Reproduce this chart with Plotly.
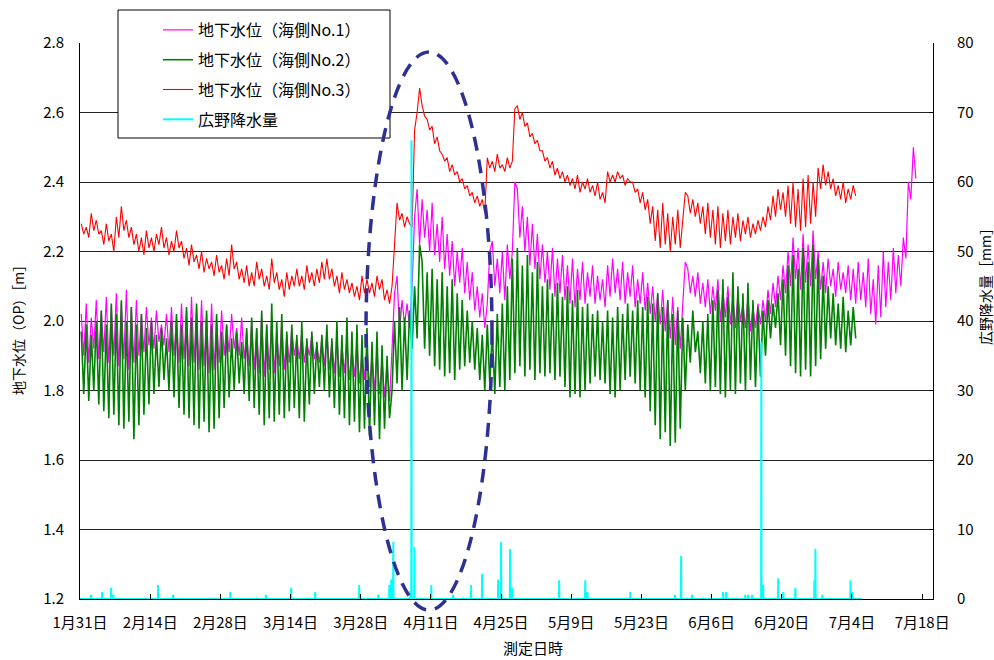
import pandas as pd
import plotly.graph_objects as go

# ---------------- data (12-hourly readings, starting 2011-01-31 06:00) ----------------
SERIES_START = "2011-01-31 06:00"

no1_level = [
    2.02,1.90, 2.05,1.88, 2.01,1.92, 2.06,1.89, 2.03,1.91, 2.07,1.88, 2.04,1.90,
    2.08,1.87, 2.05,1.89, 2.09,1.86, 2.04,1.88, 2.06,1.90, 2.02,1.91, 2.04,1.93,
    2.01,1.92, 2.03,1.94, 1.99,1.93, 2.02,1.91, 2.04,1.90, 2.01,1.88, 2.05,1.89,
    2.03,1.87, 2.07,1.88, 2.04,1.86, 2.06,1.87, 2.02,1.85, 2.05,1.86, 2.01,1.88,
    2.03,1.90, 1.99,1.91, 2.02,1.92, 1.98,1.90, 2.01,1.89, 1.97,1.87, 2.00,1.86,
    1.98,1.85, 2.02,1.84, 1.99,1.86, 2.01,1.85, 1.97,1.87, 2.00,1.86, 1.96,1.88,
    1.98,1.90, 1.95,1.89, 1.97,1.88, 1.94,1.90, 1.96,1.89, 1.93,1.88, 1.95,1.87,
    1.97,1.86, 1.94,1.85, 1.96,1.84, 1.93,1.85, 1.95,1.83, 1.92,1.84, 1.94,1.82,
    1.91,1.83, 1.93,1.81, 1.90,1.80, 1.92,1.79, 1.89,1.78, 1.88,1.77, 1.92,2.08,
    2.13,1.97, 2.06,1.99, 2.05,1.98, 2.10,2.30, 2.38,2.22, 2.35,2.24, 2.32,2.20,
    2.34,2.19, 2.28,2.17, 2.30,2.15, 2.25,2.13, 2.23,2.10, 2.20,2.11, 2.21,2.08,
    2.17,2.06, 2.14,2.03, 2.10,2.01, 2.08,1.98, 2.05,2.20, 2.23,2.10, 2.18,2.08,
    2.20,2.06, 2.22,2.12, 2.20,2.40, 2.38,2.24, 2.33,2.20, 2.30,2.16, 2.28,2.15,
    2.25,2.12, 2.22,2.11, 2.20,2.09, 2.21,2.07, 2.18,2.08, 2.19,2.06, 2.16,2.05,
    2.18,2.04, 2.15,2.06, 2.17,2.05, 2.14,2.07, 2.16,2.05, 2.13,2.06, 2.12,2.04,
    2.16,2.07, 2.18,2.08, 2.15,2.06, 2.17,2.05, 2.14,2.07, 2.16,2.04, 2.12,2.05,
    2.14,2.03, 2.11,2.02, 2.10,2.00, 2.08,1.99, 2.09,1.97, 2.06,1.95, 2.07,1.93,
    2.04,1.92, 2.05,2.17, 2.15,2.08, 2.13,2.07, 2.14,2.05, 2.11,2.04, 2.12,2.02,
    2.10,2.03, 2.12,2.00, 2.09,2.01, 2.10,1.99, 2.07,1.98, 2.08,2.00, 2.05,1.98,
    2.07,1.97, 2.04,1.98, 2.05,1.99, 2.06,2.00, 2.09,2.02, 2.11,2.04, 2.13,2.06,
    2.16,2.08, 2.20,2.10, 2.24,2.12, 2.21,2.09, 2.25,2.11, 2.22,2.10, 2.26,2.12,
    2.20,2.09, 2.17,2.08, 2.18,2.10, 2.15,2.07, 2.17,2.09, 2.14,2.08, 2.16,2.06,
    2.15,2.05, 2.17,2.06, 2.14,2.04, 2.18,2.02, 2.12,1.99, 2.16,2.01, 2.20,2.04,
    2.17,2.06, 2.21,2.08, 2.19,2.10, 2.24,2.18, 2.40,2.35, 2.50,2.41,
]

no2_level = [
    1.97,1.79, 1.99,1.77, 1.96,1.80, 2.00,1.76, 2.03,1.74, 1.99,1.72, 2.05,1.73,
    2.02,1.70, 2.06,1.69, 2.00,1.71, 2.04,1.66, 1.99,1.70, 2.02,1.73, 1.98,1.76,
    2.00,1.79, 1.96,1.81, 1.98,1.83, 1.95,1.80, 2.00,1.78, 2.02,1.75, 1.99,1.73,
    2.04,1.72, 2.01,1.70, 2.05,1.69, 2.00,1.71, 2.03,1.68, 1.99,1.69, 2.02,1.72,
    1.97,1.75, 1.99,1.78, 1.95,1.80, 1.97,1.82, 1.94,1.79, 1.98,1.77, 2.01,1.75,
    1.98,1.73, 2.03,1.70, 1.99,1.72, 2.05,1.71, 2.00,1.73, 2.02,1.72, 1.97,1.74,
    1.99,1.75, 1.96,1.72, 2.00,1.71, 1.95,1.76, 1.97,1.79, 1.94,1.81, 1.96,1.80,
    1.99,1.78, 1.95,1.75, 2.00,1.73, 1.96,1.72, 2.01,1.70, 1.97,1.71, 1.99,1.68,
    1.96,1.69, 1.98,1.67, 1.94,1.70, 1.97,1.66, 1.93,1.69, 1.90,1.72, 1.80,2.00,
    1.82,2.04, 1.80,2.01, 1.83,2.03, 1.92,2.10, 1.95,2.22, 2.17,1.92, 2.14,1.90,
    2.15,1.87, 2.12,1.86, 2.14,1.84, 2.10,1.85, 2.12,1.83, 2.08,1.86, 2.06,1.87,
    2.03,1.88, 2.00,1.86, 1.98,1.83, 1.96,1.80, 1.99,1.82, 1.97,1.79, 2.02,1.81,
    2.05,1.80, 2.10,1.83, 2.18,1.85, 2.21,1.87, 2.16,1.84, 2.19,1.86, 2.14,1.83,
    2.17,1.85, 2.10,1.84, 2.12,1.85, 2.08,1.83, 2.11,1.84, 2.07,1.81, 2.10,1.78,
    2.06,1.79, 2.09,1.78, 2.04,1.80, 2.05,1.82, 2.02,1.84, 2.03,1.83, 2.00,1.82,
    2.03,1.79, 2.01,1.78, 2.04,1.80, 2.02,1.83, 2.05,1.84, 2.03,1.82, 2.06,1.80,
    2.04,1.78, 2.07,1.74, 2.05,1.70, 2.08,1.66, 2.04,1.68, 2.06,1.64, 2.02,1.65,
    2.03,1.69, 2.01,1.80, 1.99,1.88, 2.03,1.91, 1.97,1.85, 2.00,1.82, 2.02,1.80,
    2.06,1.81, 2.09,1.79, 2.12,1.78, 2.07,1.80, 2.14,1.79, 2.10,1.82, 2.08,1.80,
    2.11,1.83, 2.06,1.81, 2.04,1.84, 2.03,1.90, 2.06,1.95, 2.05,1.98, 2.08,1.93,
    2.12,1.90, 2.16,1.87, 2.19,1.85, 2.15,1.84, 2.21,1.86, 2.17,1.84, 2.22,1.87,
    2.18,1.89, 2.13,1.92, 2.10,1.95, 2.08,1.93, 2.05,1.92, 2.07,1.91, 2.03,1.93,
    2.04,1.95,
]

no3_level = [
    2.28,2.25, 2.27,2.24, 2.31,2.26, 2.29,2.25, 2.26,2.22, 2.28,2.23, 2.25,2.20,
    2.30,2.24, 2.33,2.26, 2.29,2.24, 2.27,2.22, 2.25,2.20, 2.24,2.19, 2.26,2.21,
    2.24,2.20, 2.25,2.22, 2.27,2.21, 2.24,2.19, 2.23,2.20, 2.26,2.21, 2.23,2.18,
    2.21,2.16, 2.22,2.17, 2.19,2.15, 2.20,2.14, 2.18,2.15, 2.17,2.13, 2.19,2.14,
    2.16,2.12, 2.18,2.13, 2.22,2.15, 2.17,2.12, 2.15,2.11, 2.16,2.10, 2.14,2.10,
    2.17,2.12, 2.15,2.10, 2.13,2.09, 2.18,2.11, 2.14,2.09, 2.12,2.07, 2.14,2.09,
    2.13,2.10, 2.15,2.10, 2.13,2.09, 2.16,2.11, 2.14,2.10, 2.15,2.11, 2.17,2.12,
    2.18,2.12, 2.15,2.10, 2.13,2.08, 2.14,2.09, 2.12,2.08, 2.11,2.07, 2.10,2.06,
    2.13,2.08, 2.12,2.08, 2.11,2.07, 2.13,2.09, 2.12,2.06, 2.09,2.05, 2.10,2.22,
    2.34,2.29, 2.31,2.27, 2.30,2.28, 2.27,2.55, 2.60,2.67, 2.62,2.59, 2.58,2.55,
    2.56,2.51, 2.53,2.49, 2.48,2.46, 2.47,2.43, 2.45,2.42, 2.43,2.40, 2.41,2.38,
    2.39,2.36, 2.37,2.34, 2.36,2.33, 2.35,2.31, 2.47,2.44, 2.46,2.43, 2.48,2.44,
    2.45,2.43, 2.47,2.44, 2.46,2.61, 2.62,2.58, 2.60,2.56, 2.57,2.53, 2.54,2.51,
    2.52,2.49, 2.49,2.46, 2.47,2.44, 2.46,2.42, 2.44,2.41, 2.43,2.40, 2.42,2.39,
    2.41,2.38, 2.42,2.37, 2.40,2.38, 2.41,2.37, 2.39,2.36, 2.40,2.35, 2.37,2.34,
    2.43,2.40, 2.42,2.40, 2.43,2.41, 2.42,2.39, 2.41,2.40, 2.40,2.37, 2.38,2.34,
    2.37,2.32, 2.35,2.28, 2.33,2.23, 2.32,2.21, 2.34,2.22, 2.31,2.20, 2.30,2.22,
    2.32,2.21, 2.28,2.37, 2.36,2.31, 2.35,2.30, 2.34,2.28, 2.33,2.25, 2.34,2.24,
    2.32,2.22, 2.33,2.21, 2.31,2.23, 2.32,2.22, 2.30,2.24, 2.31,2.23, 2.29,2.25,
    2.30,2.24, 2.28,2.25, 2.29,2.26, 2.30,2.27, 2.33,2.29, 2.36,2.30, 2.38,2.32,
    2.37,2.30, 2.39,2.28, 2.40,2.27, 2.38,2.26, 2.41,2.27, 2.42,2.28, 2.40,2.30,
    2.44,2.38, 2.45,2.39, 2.43,2.38, 2.41,2.36, 2.39,2.35, 2.40,2.34, 2.38,2.35,
    2.39,2.36,
]

rain_start = "2011-01-31 00:00"
rain_end = "2011-07-06 00:00"
rain_time = [
    "2011-02-02 05:00", "2011-02-04 10:00", "2011-02-06 05:00", "2011-02-06 15:00",
    "2011-02-15 14:00", "2011-02-18 14:00", "2011-03-02 00:00", "2011-03-09 02:00",
    "2011-03-14 03:00", "2011-03-18 22:00", "2011-03-27 17:00", "2011-03-31 12:00",
    "2011-04-02 17:00", "2011-04-03 02:00", "2011-04-03 12:00", "2011-04-06 22:00",
    "2011-04-07 03:00", "2011-04-07 17:00", "2011-04-11 02:00", "2011-04-15 10:00",
    "2011-04-19 00:00", "2011-04-21 05:00", "2011-04-24 10:00", "2011-04-25 00:00",
    "2011-04-26 19:00", "2011-04-27 05:00", "2011-05-06 14:00", "2011-05-11 19:00",
    "2011-05-12 05:00", "2011-05-20 19:00", "2011-05-29 17:00", "2011-05-30 22:00",
    "2011-06-02 02:00", "2011-06-08 07:00", "2011-06-08 22:00", "2011-06-12 17:00",
    "2011-06-13 07:00", "2011-06-14 02:00", "2011-06-15 22:00", "2011-06-16 07:00",
    "2011-06-19 07:00", "2011-06-20 07:00", "2011-06-22 17:00", "2011-06-26 12:00",
    "2011-06-26 17:00", "2011-06-28 02:00", "2011-07-03 17:00", "2011-07-04 02:00",
]
rain_mm = [
    0.6, 1.0, 1.6, 0.6,
    2.0, 0.6, 1.0, 0.6,
    1.6, 1.0, 2.0, 0.6,
    2.0, 2.8, 8.2, 1.2,
    66.0, 7.5, 2.0, 0.6,
    2.0, 3.6, 2.8, 8.2,
    7.2, 1.6, 2.7, 2.7,
    1.0, 1.0, 0.6, 6.2,
    0.6, 1.0, 1.0, 0.6,
    0.6, 0.6, 37.0, 2.0,
    3.0, 1.0, 1.6, 2.7,
    7.2, 0.6, 2.7, 1.0,
]

tick_dates = ["2011-01-31", "2011-02-14", "2011-02-28", "2011-03-14", "2011-03-28",
              "2011-04-11", "2011-04-25", "2011-05-09", "2011-05-23", "2011-06-06",
              "2011-06-20", "2011-07-04", "2011-07-18"]
tick_text = ["1月31日", "2月14日", "2月28日", "3月14日", "3月28日", "4月11日", "4月25日",
             "5月9日", "5月23日", "6月6日", "6月20日", "7月4日", "7月18日"]

names = ["地下水位（海側No.1）", "地下水位（海側No.2）", "地下水位（海側No.3）", "広野降水量"]

# ---------------- build ----------------
def times(n):
    return pd.date_range(SERIES_START, periods=n, freq="12h")

rx = [pd.Timestamp(rain_start)]
ry = [0.0]
for t, v in zip(rain_time, rain_mm):
    t = pd.Timestamp(t)
    rx += [t - pd.Timedelta(hours=1), t, t + pd.Timedelta(hours=1)]
    ry += [0.0, v, 0.0]
rx.append(pd.Timestamp(rain_end))
ry.append(0.0)

FONT = "Noto Sans CJK JP, sans-serif"

fig = go.Figure()
fig.add_trace(go.Scatter(x=times(len(no1_level)), y=no1_level, name=names[0], mode="lines",
                         line=dict(color="#FF00FF", width=1.2), legendgroup="g1"))
fig.add_trace(go.Scatter(x=times(len(no2_level)), y=no2_level, name=names[1], mode="lines",
                         line=dict(color="#008000", width=1.6), legendgroup="g2"))
fig.add_trace(go.Scatter(x=times(len(no3_level)), y=no3_level, name=names[2], mode="lines",
                         line=dict(color="#FF0000", width=1.1), legendgroup="g3"))
fig.add_trace(go.Scatter(x=rx, y=ry, name=names[3], mode="lines", yaxis="y2",
                         line=dict(color="#00FFFF", width=2), legendgroup="g4"))

# pixel helpers for paper coords (plot area: x 80..933, y 43..599)
def px(x):
    return (x - 80) / 853.0

def py(y):
    return (599 - y) / 556.0

fig.update_layout(
    width=994, height=660,
    margin=dict(l=80, r=61, t=43, b=61),
    paper_bgcolor="white", plot_bgcolor="white",
    font=dict(family=FONT, size=15, color="black"),
    showlegend=True,
    legend=dict(x=px(158), y=py(13), xanchor="left", yanchor="top",
                bgcolor="rgba(0,0,0,0)", borderwidth=0,
                font=dict(family=FONT, size=16, color="black"),
                tracegroupgap=6),
    xaxis=dict(type="date", range=["2011-01-31 00:00", "2011-07-20 04:00"],
               tickmode="array", tickvals=tick_dates, ticktext=tick_text,
               showgrid=False, showline=True, linecolor="black", linewidth=1,
               ticks="inside", ticklen=5, tickcolor="black", ticklabelstandoff=10,
               tickfont=dict(family=FONT, size=15), zeroline=False),
    yaxis=dict(range=[1.2, 2.8], tick0=1.2, dtick=0.2, tickformat=".1f",
               showgrid=True, gridcolor="#222222", gridwidth=1,
               showline=True, linecolor="black", linewidth=1, zeroline=False,
               ticks="", ticklabelstandoff=12, tickfont=dict(family=FONT, size=15)),
    yaxis2=dict(range=[0, 80], tick0=0, dtick=10, overlaying="y", side="right",
                showgrid=False, showline=True, linecolor="black", linewidth=1,
                ticks="inside", ticklen=4, tickcolor="black", zeroline=False,
                ticklabelstandoff=20, tickfont=dict(family=FONT, size=15)),
    shapes=[
        dict(type="rect", xref="paper", yref="paper", x0=px(118), x1=px(390),
             y0=py(138), y1=py(10), fillcolor="white",
             line=dict(color="black", width=1), layer="above"),
        dict(type="circle", xref="paper", yref="paper", x0=px(366), x1=px(492),
             y0=py(610), y1=py(52), line=dict(color="#2E3192", width=3.5, dash="14px,9px"),
             layer="above"),
    ],
    annotations=[
        dict(text="地下水位（OP）［m］", xref="paper", yref="paper", x=px(18), y=py(327),
             xanchor="center", yanchor="middle", textangle=-90, showarrow=False,
             font=dict(family=FONT, size=14)),
        dict(text="広野降水量［mm］", xref="paper", yref="paper", x=px(985), y=py(283),
             xanchor="center", yanchor="middle", textangle=-90, showarrow=False,
             font=dict(family=FONT, size=14)),
        dict(text="測定日時", xref="paper", yref="paper", x=px(533), y=py(647),
             xanchor="center", yanchor="middle", showarrow=False,
             font=dict(family=FONT, size=15)),
    ],
)

fig.write_html("out.html", config={"displayModeBar": False},
               post_script="document.body.style.margin='0px';")
